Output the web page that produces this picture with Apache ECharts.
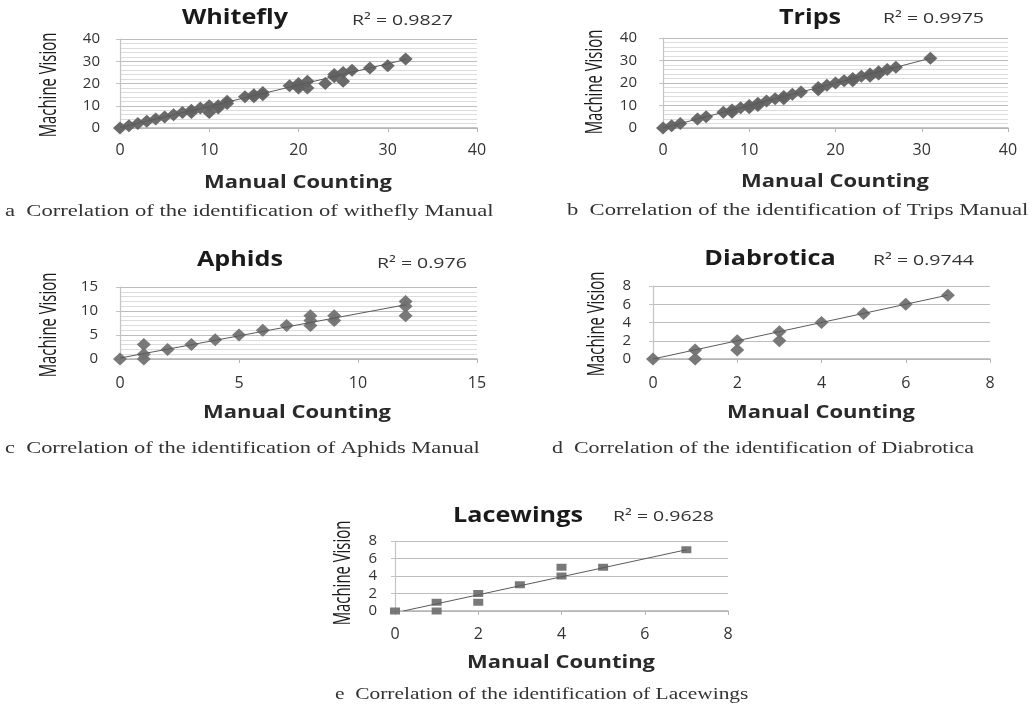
<!DOCTYPE html>
<html>
<head>
<meta charset="utf-8">
<script src="https://cdn.jsdelivr.net/npm/echarts@6/dist/echarts.min.js"></script>
<style>html,body{margin:0;padding:0;background:#fff}#c{width:1033px;height:710px}</style>
</head>
<body>
<div id="c"></div>
<script>
// ---- Data ----
const panelNames = ['Whitefly', 'Trips', 'Aphids', 'Diabrotica', 'Lacewings'];
const r2Labels = ['R² = 0.9827', 'R² = 0.9975', 'R² = 0.976', 'R² = 0.9744', 'R² = 0.9628'];
const captions = [
  'a  Correlation of the identification of withefly Manual',
  'b  Correlation of the identification of Trips Manual',
  'c  Correlation of the identification of Aphids Manual',
  'd  Correlation of the identification of Diabrotica',
  'e  Correlation of the identification of Lacewings'
];
const xAxisTitle = 'Manual Counting';
const yAxisTitle = 'Machine Vision';

const whiteflyX = [0,1,2,3,4,5,6,7,8,8,9,10,10,11,11,12,12,14,15,15,16,16,19,20,20,20,21,21,23,24,24,25,25,26,28,30,32];
const whiteflyY = [0,1,2,3,4,5,6,7,8,7,9,10,7,9,10,12,11,14,15,14,16,15,19,20,18,19,21,18,20,24,23,21,25,26,27,28,31];
const whiteflyTrend = [[0,0.2],[32,30.8]];

const tripsX = [0,1,2,4,5,7,8,8,9,10,10,11,11,12,13,14,14,15,16,18,18,19,20,21,22,22,23,24,24,25,25,26,27,31];
const tripsY = [0,1,2,4,5,7,8,7,9,10,9,11,10,12,13,14,13,15,16,18,17,19,20,21,22,21,23,24,23,25,24,26,27,31];
const tripsTrend = [[0,0],[31,31]];

const aphidsX = [0,1,1,1,2,3,4,5,6,7,8,8,8,9,9,12,12,12];
const aphidsY = [0,1,0,3,2,3,4,5,6,7,7,8,9,8,9,12,11,9];
const aphidsTrend = [[0,0.2],[12,11.3]];

const diabroticaX = [0,1,1,2,2,3,3,4,5,6,7];
const diabroticaY = [0,1,0,2,1,3,2,4,5,6,7];
const diabroticaTrend = [[0,0],[7,7]];

const lacewingsX = [0,1,1,2,2,3,4,4,5,7];
const lacewingsY = [0,1,0,2,1,3,4,5,5,7];
const lacewingsTrend = [[0.2,0],[7,7]];

const xMax = [40, 40, 15, 8, 8];
const xStep = [10, 10, 5, 2, 2];
const yMax = [40, 40, 15, 8, 8];
const yStep = [10, 10, 5, 2, 2];
const yMinorSplits = [5, 5, 5, 0, 0];

// ---- Layout ----
const grids = [
  {left:120, top:39, width:357, height:89},
  {left:663, top:38, width:345, height:90},
  {left:120, top:287, width:357, height:72},
  {left:653, top:286, width:337, height:73},
  {left:395, top:541, width:333, height:70}
];
const yLabelMargin = [20, 26, 22, 22, 18];
const xLabelMargin = [14, 14, 16, 16, 15];
const titlePos = [[235,18],[810,18],[240,260],[770,259],[518,516]];
const r2Pos = [[352,21],[883,19],[377,264],[873,261],[613,517]];
const yNamePos = [[49,85],[595,82],[49,325],[597,324],[343,573]];
const xNamePos = [[298,183],[835,182],[297,413],[821,413],[561,663]];
const capPos = [[5,212],[567,211],[5,449],[552,449],[335,695]];
const capScale = [1.33, 1.33, 1.32, 1.29, 1.26];

const xs = [whiteflyX, tripsX, aphidsX, diabroticaX, lacewingsX];
const ys = [whiteflyY, tripsY, aphidsY, diabroticaY, lacewingsY];
const trends = [whiteflyTrend, tripsTrend, aphidsTrend, diabroticaTrend, lacewingsTrend];

const xAxes = [], yAxes = [], series = [], graphics = [];
for (let i = 0; i < 5; i++) {
  xAxes.push({
    gridIndex: i, type: 'value', min: 0, max: xMax[i], interval: xStep[i],
    axisLine: {show: true, onZero: false, lineStyle: {color: '#b3b3b3', width: 1.5}},
    axisTick: {show: true, inside: false, length: 4, lineStyle: {color: '#b3b3b3'}},
    axisLabel: {margin: xLabelMargin[i], fontFamily: 'Open Sans', fontSize: 16, color: '#333'},
    splitLine: {show: false}
  });
  const minor = yMinorSplits[i] > 0;
  yAxes.push({
    gridIndex: i, type: 'value', min: 0, max: yMax[i], interval: yStep[i],
    axisLine: {show: true, lineStyle: {color: '#c4c4c4', width: 1.2}},
    axisTick: {show: true, inside: false, length: 4, lineStyle: {color: '#c4c4c4'}},
    axisLabel: {margin: yLabelMargin[i], fontFamily: 'Open Sans', fontSize: 15, color: '#333'},
    splitLine: {show: true, lineStyle: {color: '#bdbdbd', width: 1}},
    minorTick: {show: false, splitNumber: minor ? yMinorSplits[i] : 5},
    minorSplitLine: {show: minor, lineStyle: {color: '#dcdcdc', width: 1}}
  });
  const pts = xs[i].map((x, k) => [x, ys[i][k]]);
  const isRect = i === 4;
  series.push({
    type: 'scatter', xAxisIndex: i, yAxisIndex: i, data: pts,
    symbol: isRect ? 'rect' : 'diamond',
    symbolSize: isRect ? [10, 7] : [14, 13],
    itemStyle: {color: i < 2 ? '#626262' : '#727272', opacity: 0.95},
    silent: true, z: 2
  });
  series.push({
    type: 'line', xAxisIndex: i, yAxisIndex: i, data: trends[i],
    symbol: 'none', lineStyle: {color: '#5a5a5a', width: 1}, silent: true, z: 3
  });
  graphics.push({
    type: 'text', x: titlePos[i][0], y: titlePos[i][1], scaleX: 1.2,
    style: {text: panelNames[i], font: 'bold 21px "Open Sans"', fill: '#1a1a1a', textAlign: 'center', textVerticalAlign: 'middle'}
  });
  graphics.push({
    type: 'text', x: r2Pos[i][0], y: r2Pos[i][1], scaleX: 1.3,
    style: {text: r2Labels[i], font: '15px "Open Sans"', fill: '#333', textVerticalAlign: 'middle', textAlign: 'left'}
  });
  graphics.push({
    type: 'text', x: yNamePos[i][0], y: yNamePos[i][1], rotation: Math.PI / 2, scaleX: 0.62, scaleY: 1,
    style: {text: yAxisTitle, font: '24px "Open Sans"', fill: '#1a1a1a', textAlign: 'center', textVerticalAlign: 'middle'}
  });
  graphics.push({
    type: 'text', x: xNamePos[i][0], y: xNamePos[i][1], scaleX: 1.22,
    style: {text: xAxisTitle, font: 'bold 18px "Open Sans"', fill: '#2a2a2a', textAlign: 'center', textVerticalAlign: 'middle'}
  });
  graphics.push({
    type: 'text', x: capPos[i][0], y: capPos[i][1], scaleX: capScale[i],
    style: {text: captions[i], font: '17px "Liberation Serif"', fill: '#333', textAlign: 'left', textVerticalAlign: 'middle'}
  });
}

const chart = echarts.init(document.getElementById('c'), null, {renderer: 'canvas'});
chart.setOption({
  animation: false,
  backgroundColor: '#fff',
  grid: grids,
  xAxis: xAxes,
  yAxis: yAxes,
  series: series,
  graphic: graphics
});
</script>
</body>
</html>
